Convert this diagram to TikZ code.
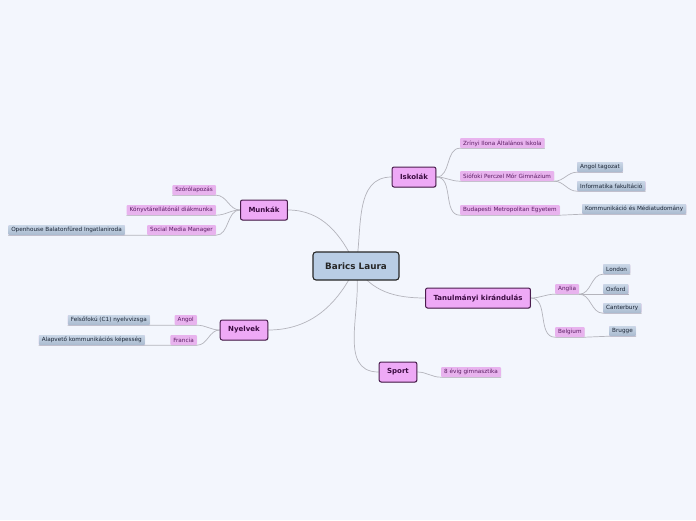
\documentclass[tikz,border=0pt]{standalone}
\usepackage{fontspec}
\setmainfont{DejaVu Sans}
\usepackage{xcolor}
\usepackage{tikz}
\usetikzlibrary{shadows}
\definecolor{bgblue}{HTML}{F3F6FD}
\definecolor{rootfill}{HTML}{B9CDE5}
\definecolor{topicpink}{HTML}{EEA9F6}
\definecolor{topicline}{HTML}{4A1D4E}
\definecolor{topictext}{HTML}{3A0B40}
\definecolor{leafpink}{HTML}{E8B3EE}
\definecolor{leaftext}{HTML}{5A1C62}
\definecolor{subtop}{HTML}{CAD7E7}
\definecolor{subbottom}{HTML}{A9BACF}
\definecolor{subtext}{HTML}{1B2636}
\definecolor{linkgray}{HTML}{B4B4BC}
\pgfdeclarelayer{bg}
\pgfdeclarelayer{edges}
\pgfsetlayers{bg,edges,main}

\begin{document}
\begin{tikzpicture}[x=1pt, y=-1pt,
  root/.style={draw=black!85, line width=1.1pt, fill=rootfill, rounded corners=3pt, minimum width=86pt, minimum height=28pt, font=\fontsize{8.8}{10}\selectfont\bfseries, text=black!85},
  topic/.style={draw=topicline, line width=1pt, fill=topicpink, rounded corners=2pt, minimum height=20pt, inner xsep=8pt, font=\fontsize{7}{8}\selectfont\bfseries, text=topictext, drop shadow={opacity=0.3, shadow xshift=0.6pt, shadow yshift=-0.8pt}},
  leaf/.style={fill=leafpink, rounded corners=1pt, minimum height=10pt, inner xsep=3pt, inner ysep=0pt, font=\fontsize{5.7}{6.5}\selectfont, text=leaftext, drop shadow={opacity=0.15, shadow xshift=0.4pt, shadow yshift=-0.6pt}},
  subleaf/.style={leaf, top color=subtop, bottom color=subbottom, text=subtext},
  link/.style={draw=linkgray, line width=0.7pt}]
  \begin{pgfonlayer}{bg}
    \fill[bgblue] (0,0) rectangle (696,520);
  \end{pgfonlayer}
  \useasboundingbox (0,0) rectangle (696,520);

  % root and topics
  \node[root] (barics) at (356,266) {Barics Laura};
  \node[topic] (iskolak) at (414,177) {Iskolák};
  \node[topic] (munkak) at (264,210) {Munkák};
  \node[topic] (nyelvek) at (244,330) {Nyelvek};
  \node[topic] (tanulmanyi) at (478,298) {Tanulmányi kirándulás};
  \node[topic] (sport) at (398,372) {Sport};

  % Iskolák
  \node[leaf, anchor=west] (zrinyi) at (460,143) {Zrínyi Ilona Általános Iskola};
  \node[leaf, anchor=west] (siofoki) at (460,176) {Siófoki Perczel Mór Gimnázium};
  \node[leaf, anchor=west] (budapesti) at (460,210) {Budapesti Metropolitan Egyetem};
  \node[subleaf, anchor=west] (angoltag) at (577,167) {Angol tagozat};
  \node[subleaf, anchor=west] (informatika) at (577,186) {Informatika fakultáció};
  \node[subleaf, anchor=west] (kommunikacio) at (582,209) {Kommunikáció és Médiatudomány};

  % Munkák
  \node[leaf, anchor=east] (szorolap) at (216,190) {Szórólapozás};
  \node[leaf, anchor=east] (konyvtar) at (216,210) {Könyvtárellátónál diákmunka};
  \node[leaf, anchor=east] (smm) at (216,230) {Social Media Manager};
  \node[subleaf, anchor=east] (openhouse) at (125,230) {Openhouse Balatonfüred Ingatlaniroda};

  % Nyelvek
  \node[leaf, anchor=east] (angol) at (197,320) {Angol};
  \node[leaf, anchor=east] (francia) at (197,340) {Francia};
  \node[subleaf, anchor=east] (felsofoku) at (150,320) {Felsőfokú (C1) nyelvvizsga};
  \node[subleaf, anchor=east] (alapveto) at (145,340) {Alapvető kommunikációs képesség};

  % Tanulmányi kirándulás
  \node[leaf, anchor=west] (anglia) at (555,289) {Anglia};
  \node[leaf, anchor=west] (belgium) at (555,332) {Belgium};
  \node[subleaf, anchor=west] (london) at (603,269) {London};
  \node[subleaf, anchor=west] (oxford) at (603,289) {Oxford};
  \node[subleaf, anchor=west] (canterbury) at (603,308) {Canterbury};
  \node[subleaf, anchor=west] (brugge) at (609,331) {Brugge};

  % Sport
  \node[leaf, anchor=west] (gimnasztika) at (441,372) {8 évig gimnasztika};

  \begin{pgfonlayer}{edges}
    \draw[link] (barics.center) to[out=80, in=180] (iskolak.west);
    \draw[link] (barics.center) to[out=115, in=0] (munkak.east);
    \draw[link] (barics.center) to[out=245, in=0] (nyelvek.east);
    \draw[link] (barics.center) to[out=-60, in=180] (tanulmanyi.west);
    \draw[link] (barics.center) to[out=-80, in=180] (sport.west);

    \draw[link] (iskolak.east) to[out=0, in=180] (zrinyi.south west) -- (zrinyi.south east);
    \draw[link] (iskolak.east) to[out=0, in=180] (siofoki.south west) -- (siofoki.south east);
    \draw[link] (iskolak.east) to[out=0, in=180] (budapesti.south west) -- (budapesti.south east)
      -- (kommunikacio.south west) -- (kommunikacio.south east);
    \draw[link] (siofoki.south east) to[out=0, in=180] (angoltag.south west) -- (angoltag.south east);
    \draw[link] (siofoki.south east) to[out=0, in=180] (informatika.south west) -- (informatika.south east);

    \draw[link] (munkak.west) to[out=180, in=0] (szorolap.south east) -- (szorolap.south west);
    \draw[link] (munkak.west) to[out=180, in=0] (konyvtar.south east) -- (konyvtar.south west);
    \draw[link] (munkak.west) to[out=180, in=0] (smm.south east) -- (smm.south west)
      -- (openhouse.south east) -- (openhouse.south west);

    \draw[link] (nyelvek.west) to[out=180, in=0] (angol.south east) -- (angol.south west)
      -- (felsofoku.south east) -- (felsofoku.south west);
    \draw[link] (nyelvek.west) to[out=180, in=0] (francia.south east) -- (francia.south west)
      -- (alapveto.south east) -- (alapveto.south west);

    \draw[link] (tanulmanyi.east) to[out=0, in=180] (anglia.south west) -- (anglia.south east);
    \draw[link] (tanulmanyi.east) to[out=0, in=180] (belgium.south west) -- (belgium.south east)
      -- (brugge.south west) -- (brugge.south east);
    \draw[link] (anglia.south east) to[out=0, in=180] (london.south west) -- (london.south east);
    \draw[link] (anglia.south east) -- (oxford.south west) -- (oxford.south east);
    \draw[link] (anglia.south east) to[out=0, in=180] (canterbury.south west) -- (canterbury.south east);

    \draw[link] (sport.east) to[out=0, in=180] (gimnasztika.south west) -- (gimnasztika.south east);
  \end{pgfonlayer}
\end{tikzpicture}
\end{document}
